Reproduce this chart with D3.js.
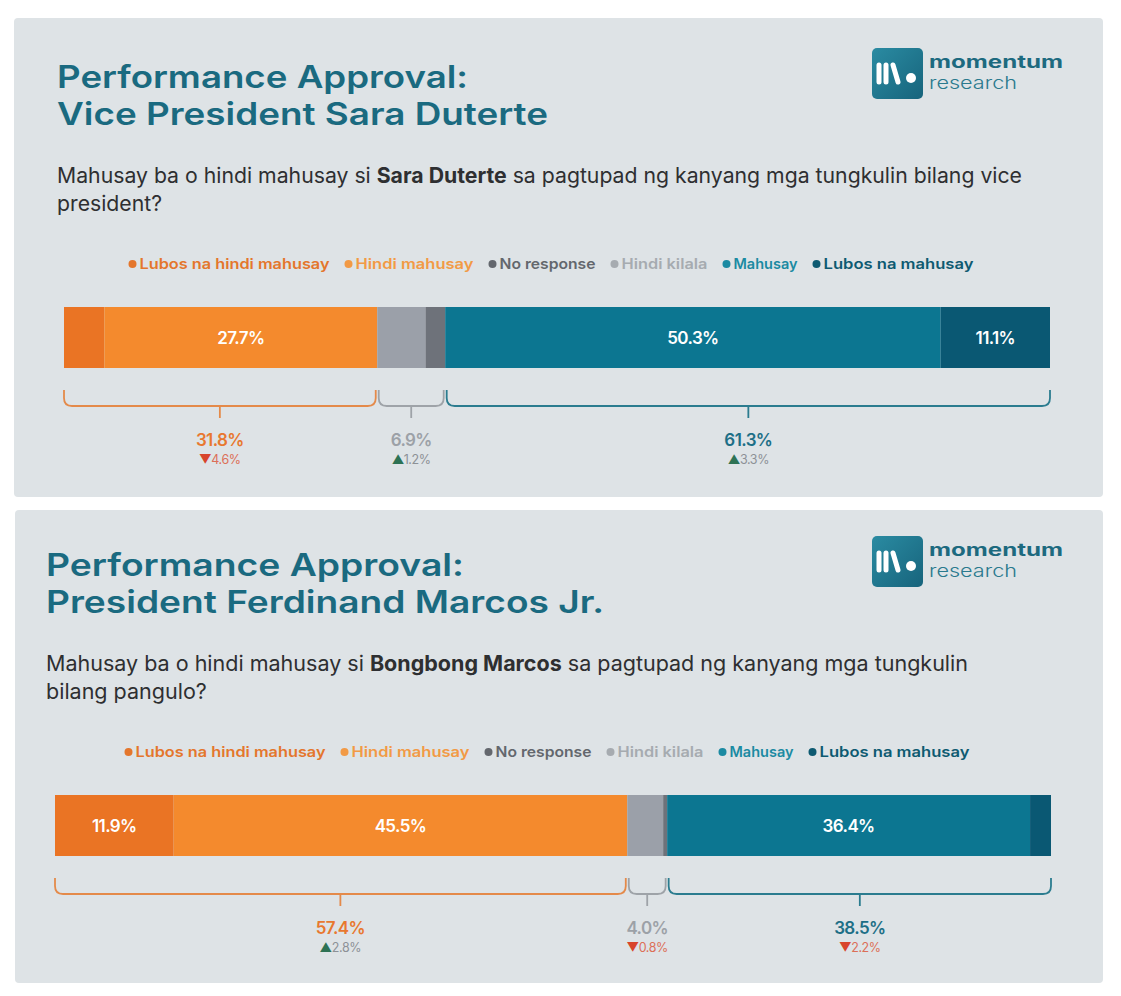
<!DOCTYPE html>
<html>
<head>
<meta charset="utf-8">
<script src="https://cdn.jsdelivr.net/npm/d3@7/dist/d3.min.js"></script>
<style>
  html, body { margin: 0; padding: 0; background: #ffffff; }
  svg { display: block; }
</style>
</head>
<body>
<svg id="chart" width="1121" height="996"></svg>
<script>
// ---------------- DATA ----------------
const categories = ["Lubos na hindi mahusay", "Hindi mahusay", "No response", "Hindi kilala", "Mahusay", "Lubos na mahusay"];
const stackOrder = ["Lubos na hindi mahusay", "Hindi mahusay", "Hindi kilala", "No response", "Mahusay", "Lubos na mahusay"];
const groupMembers = [["Lubos na hindi mahusay", "Hindi mahusay"], ["Hindi kilala", "No response"], ["Mahusay", "Lubos na mahusay"]];

// values in category order
const saraValues   = [4.1, 27.7, 2.0, 4.9, 50.3, 11.1];
const marcosValues = [11.9, 45.5, 0.4, 3.6, 36.4, 2.1];

const saraGroupTotals    = [31.8, 6.9, 61.3];
const saraGroupChanges   = [-4.6, 1.2, 3.3];
const marcosGroupTotals  = [57.4, 4.0, 38.5];
const marcosGroupChanges = [2.8, -0.8, -2.2];

const titles1 = ["Performance Approval:", "Vice President Sara Duterte"];
const titles2 = ["Performance Approval:", "President Ferdinand Marcos Jr."];
const question1 = [
  [["Mahusay ba o hindi mahusay si ", false], ["Sara Duterte", true], [" sa pagtupad ng kanyang mga tungkulin bilang vice", false]],
  [["president?", false]]
];
const question2 = [
  [["Mahusay ba o hindi mahusay si ", false], ["Bongbong Marcos", true], [" sa pagtupad ng kanyang mga tungkulin", false]],
  [["bilang pangulo?", false]]
];

// ---------------- STYLE ----------------
const barColors = {
  "Lubos na hindi mahusay": "#ea7424",
  "Hindi mahusay": "#f48a2d",
  "No response": "#6e727a",
  "Hindi kilala": "#9ba0a9",
  "Mahusay": "#0c7691",
  "Lubos na mahusay": "#0a5873"
};
const legendColors = {
  "Lubos na hindi mahusay": "#e4762c",
  "Hindi mahusay": "#f29a45",
  "No response": "#63676d",
  "Hindi kilala": "#a6abb0",
  "Mahusay": "#1b8aa2",
  "Lubos na mahusay": "#0d5a71"
};
const legendTextW = [190, 118, 96, 86, 64, 150];
const groupStroke = ["#e48a4a", "#9ea3a8", "#2b7c8f"];
const groupText = ["#e8782f", "#9ca1a7", "#1d6f86"];
const upTri = "#2d7254", upText = "#8d9196";
const downTri = "#d8442c", downText = "#dc6f58";
const FONT = "Inter, 'Noto Sans', sans-serif";

const svg = d3.select("#chart");
const defs = svg.append("defs");

function fit(sel, target) {
  const w = sel.node().getComputedTextLength();
  sel.attr("textLength", target).attr("lengthAdjust", "spacingAndGlyphs");
  return target / w;
}

function drawPanel(cfg) {
  const oy = cfg.oy;
  const g = svg.append("g");

  // panel background
  g.append("rect")
    .attr("x", cfg.px0).attr("y", cfg.py0)
    .attr("width", cfg.px1 - cfg.px0).attr("height", cfg.py1 - cfg.py0)
    .attr("rx", 4).attr("fill", "#dee3e6");

  // titles
  cfg.titles.forEach((t, i) => {
    const tt = g.append("text")
      .attr("x", cfg.tx).attr("y", oy + 88 + i * 37)
      .attr("font-family", FONT).attr("font-weight", 600)
      .attr("font-size", 31).attr("fill", "#1a6a80")
      .text(t);
    fit(tt, cfg.titleW[i]);
  });

  // question
  let ratio = 1;
  cfg.question.forEach((line, i) => {
    const tx = g.append("text")
      .attr("x", cfg.tx).attr("y", oy + 183 + i * 28)
      .attr("font-family", FONT).attr("font-size", 21)
      .attr("fill", "#2e2f31");
    line.forEach(([s, b]) => {
      tx.append("tspan").attr("font-weight", b ? 700 : 400).text(s);
    });
    if (i === 0) ratio = fit(tx, cfg.qW);
    else fit(tx, tx.node().getComputedTextLength() * ratio);
  });

  // logo
  const lg = g.append("g").attr("transform", `translate(872,${oy + 48})`);
  const grad = defs.append("linearGradient")
    .attr("id", "lgrad" + cfg.id).attr("x1", 0).attr("y1", 0).attr("x2", 1).attr("y2", 1);
  grad.append("stop").attr("offset", "0%").attr("stop-color", "#2a8ba2");
  grad.append("stop").attr("offset", "100%").attr("stop-color", "#17647c");
  lg.append("rect").attr("width", 51).attr("height", 51).attr("rx", 5).attr("fill", `url(#lgrad${cfg.id})`);
  [[7, 0], [14, 0], [21, 5]].forEach(([x, s]) => {
    lg.append("line").attr("x1", x).attr("y1", 17).attr("x2", x + s).attr("y2", 34)
      .attr("stroke", "#ffffff").attr("stroke-width", 5).attr("stroke-linecap", "round");
  });
  lg.append("circle").attr("cx", 39).attr("cy", 30).attr("r", 5).attr("fill", "#ffffff");
  const m = g.append("text").attr("x", 929).attr("y", oy + 68)
    .attr("font-family", FONT).attr("font-weight", 700).attr("font-size", 17)
    .attr("fill", "#1d6a7f").text("momentum");
  fit(m, 134);
  const rs = g.append("text").attr("x", 929).attr("y", oy + 89)
    .attr("font-family", FONT).attr("font-weight", 300).attr("font-size", 17)
    .attr("fill", "#2a7a8e").text("research");
  fit(rs, 88);

  // legend
  const leg = g.append("g");
  let lx = 0;
  const legGap = 15;
  categories.forEach((c, i) => {
    const item = leg.append("g").attr("transform", `translate(${lx},0)`);
    item.append("circle").attr("cx", 4).attr("cy", 0).attr("r", 4).attr("fill", legendColors[c]);
    const t = item.append("text").attr("x", 11).attr("y", 5)
      .attr("font-family", FONT).attr("font-weight", 600).attr("font-size", 14.5)
      .attr("fill", legendColors[c]).text(c);
    fit(t, legendTextW[i]);
    lx += 11 + legendTextW[i] + legGap;
  });
  const legW = lx - legGap;
  leg.attr("transform", `translate(${cfg.legC - legW / 2},${oy + 264})`);

  // bar
  const vals = {};
  categories.forEach((c, i) => vals[c] = cfg.values[i]);
  const total = d3.sum(cfg.values);
  const x = d3.scaleLinear().domain([0, total]).range([cfg.bx0, cfg.bx1]);
  let acc = 0;
  const segs = stackOrder.map(c => { const s = { c, v: vals[c], a: acc }; acc += vals[c]; return s; });
  const barY = oy + 307, barH = 61;
  g.selectAll(null).data(segs).enter().append("rect")
    .attr("x", d => x(d.a)).attr("y", barY)
    .attr("width", d => x(d.a + d.v) - x(d.a)).attr("height", barH)
    .attr("fill", d => barColors[d.c]);
  g.selectAll(null).data(segs.filter(d => d.v >= 8)).enter().append("text")
    .attr("x", d => x(d.a + d.v / 2)).attr("y", barY + barH / 2 + 6)
    .attr("text-anchor", "middle")
    .attr("font-family", FONT).attr("font-weight", 600).attr("font-size", 17)
    .attr("letter-spacing", -0.6).attr("fill", "#ffffff")
    .text(d => d.v.toFixed(1) + "%");

  // brackets
  const bTop = oy + 390, bBot = oy + 406, tickEnd = oy + 418, r = 8;
  groupMembers.forEach((mem, gi) => {
    const segsG = segs.filter(s => mem.includes(s.c));
    const a0 = d3.min(segsG, s => s.a), a1 = d3.max(segsG, s => s.a + s.v);
    const x0 = x(a0) + (gi > 0 ? 1.5 : 0), x1 = x(a1) - (gi < 2 ? 1.5 : 0);
    const rr = Math.min(r, (x1 - x0) / 4);
    const p = d3.path();
    p.moveTo(x0, bTop);
    p.lineTo(x0, bBot - rr);
    p.quadraticCurveTo(x0, bBot, x0 + rr, bBot);
    p.lineTo(x1 - rr, bBot);
    p.quadraticCurveTo(x1, bBot, x1, bBot - rr);
    p.lineTo(x1, bTop);
    const cx = (x0 + x1) / 2;
    p.moveTo(cx, bBot);
    p.lineTo(cx, tickEnd);
    g.append("path").attr("d", p.toString()).attr("fill", "none")
      .attr("stroke", groupStroke[gi]).attr("stroke-width", 1.8);

    g.append("text").attr("x", cx).attr("y", oy + 446)
      .attr("text-anchor", "middle")
      .attr("font-family", FONT).attr("font-weight", 600).attr("font-size", 17)
      .attr("letter-spacing", -0.6).attr("fill", groupText[gi])
      .text(cfg.groupTotals[gi].toFixed(1) + "%");

    const ch = cfg.groupChanges[gi];
    const up = ch > 0;
    const ct = g.append("text").attr("x", cx).attr("y", oy + 464)
      .attr("text-anchor", "middle")
      .attr("font-family", FONT).attr("font-weight", 400).attr("font-size", 12.5)
      .attr("letter-spacing", -0.4);
    ct.append("tspan").attr("fill", up ? upTri : downTri).text(up ? "▲" : "▼");
    ct.append("tspan").attr("fill", up ? upText : downText).text(Math.abs(ch).toFixed(1) + "%");
  });
}

drawPanel({ id: 1, oy: 0, px0: 14, px1: 1103, py0: 18, py1: 497, bx0: 64, bx1: 1050,
  tx: 57, titleW: [411, 491], qW: 965, legC: 551,
  titles: titles1, question: question1, values: saraValues,
  groupTotals: saraGroupTotals, groupChanges: saraGroupChanges });
drawPanel({ id: 2, oy: 488, px0: 15, px1: 1103, py0: 510, py1: 983, bx0: 55, bx1: 1051,
  tx: 46, titleW: [418, 558], qW: 922, legC: 547,
  titles: titles2, question: question2, values: marcosValues,
  groupTotals: marcosGroupTotals, groupChanges: marcosGroupChanges });
</script>
</body>
</html>
